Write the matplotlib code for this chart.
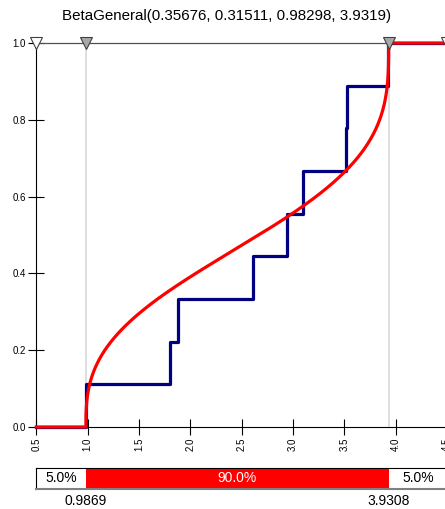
import math
import numpy as np
import matplotlib
matplotlib.use("Agg")
import matplotlib.pyplot as plt

plt.rcParams['font.family'] = ['Liberation Sans', 'DejaVu Sans']

# fitted distribution parameters
alpha1, alpha2 = 0.35676, 0.31511
lo, hi = 0.98298, 3.9319

# sample values (empirical CDF)
samples = [0.984, 1.80, 1.883, 2.61, 2.94, 3.10, 3.52, 3.53, 3.93]

# 5% / 95% delimiters
p_left, p_right = 0.9869, 3.9308
band_labels = ["5.0%", "90.0%", "5.0%"]

xticks = [0.5, 1.0, 1.5, 2.0, 2.5, 3.0, 3.5, 4.0, 4.5]
yticks = [0.0, 0.2, 0.4, 0.6, 0.8, 1.0]


def betacf(a, b, x):
    # continued fraction for the incomplete beta function
    qab, qap, qam = a + b, a + 1.0, a - 1.0
    c, d = 1.0, 1.0 - qab * x / qap
    if abs(d) < 1e-30:
        d = 1e-30
    d = 1.0 / d
    h = d
    for m in range(1, 300):
        m2 = 2 * m
        aa = m * (b - m) * x / ((qam + m2) * (a + m2))
        d = 1.0 + aa * d
        d = 1e-30 if abs(d) < 1e-30 else d
        c = 1.0 + aa / c
        c = 1e-30 if abs(c) < 1e-30 else c
        d = 1.0 / d
        h *= d * c
        aa = -(a + m) * (qab + m) * x / ((a + m2) * (qap + m2))
        d = 1.0 + aa * d
        d = 1e-30 if abs(d) < 1e-30 else d
        c = 1.0 + aa / c
        c = 1e-30 if abs(c) < 1e-30 else c
        d = 1.0 / d
        de = d * c
        h *= de
        if abs(de - 1.0) < 1e-12:
            break
    return h


def betainc(a, b, x):
    if x <= 0:
        return 0.0
    if x >= 1:
        return 1.0
    lbt = (math.lgamma(a + b) - math.lgamma(a) - math.lgamma(b)
           + a * math.log(x) + b * math.log(1 - x))
    bt = math.exp(lbt)
    if x < (a + 1) / (a + b + 2):
        return bt * betacf(a, b, x) / a
    return 1.0 - bt * betacf(b, a, 1 - x) / b


u = np.concatenate([np.linspace(0, 1, 600) ** 3 * 0.5,
                    1 - (np.linspace(0, 1, 600) ** 3 * 0.5)[::-1]])
u = np.unique(u)
xs = lo + u * (hi - lo)
cdf = np.array([betainc(alpha1, alpha2, t) for t in u])
xs = np.concatenate([[0.5], xs, [4.5]])
cdf = np.concatenate([[0.0], cdf, [1.0]])

# empirical step function
n = len(samples)
ex = np.concatenate([[0.5], samples, [4.5]])
ey = np.concatenate([[0.0], np.arange(1, n + 1) / n, [1.0]])

fig = plt.figure(figsize=(4.45, 5.09), dpi=100)
ax = fig.add_axes([0.0816, 0.1611, 0.9229, 0.7544])

ax.axvline(p_left, color='#d6d6d6', lw=1.1, zorder=1)
ax.axvline(p_right, color='#d6d6d6', lw=1.1, zorder=1)
ax.step(ex, ey, where='post', color='#000080', lw=2.3, zorder=3,
        clip_on=False)
ax.plot(xs, cdf, color='red', lw=2.3, zorder=4, clip_on=False)

ax.set_xlim(0.5, 4.5)
ax.set_ylim(0, 1)
ax.set_xticks(xticks)
ax.set_xticklabels([f"{v:.1f}" for v in xticks], rotation=90, fontsize=7)
ax.set_yticks(yticks)
ax.set_yticklabels([f"{v:.1f}" for v in yticks], fontsize=7)
ax.tick_params(direction='inout', length=11, width=0.8, pad=2)
ax.spines['right'].set_visible(False)
ax.spines['top'].set_color('#505050')
ax.spines['top'].set_linewidth(0.9)
ax.spines['top'].set_zorder(2)

# slider markers along the top edge
ax.plot([0.5, 4.5], [1.0, 1.0], 'v', ms=8, mfc='white', mec='#404040',
        mew=0.8, clip_on=False, zorder=6)
ax.plot([p_left, p_right], [1.0, 1.0], 'v', ms=8, mfc='#a8a8a8',
        mec='#404040', mew=0.8, clip_on=False, zorder=6)

fig.text(0.51, 0.968, "BetaGeneral(0.35676, 0.31511, 0.98298, 3.9319)",
         ha='center', va='center', fontsize=10.9)

# probability band under the plot
bx = fig.add_axes([0.0816, 0.0393, 0.9229, 0.0413])
bx.set_xlim(0.5, 4.5)
bx.set_ylim(0, 1)
bx.axvspan(p_left, p_right, color='red', lw=0)
bx.text((0.5 + p_left) / 2, 0.5, band_labels[0], ha='center', va='center',
        fontsize=10)
bx.text((p_left + p_right) / 2, 0.5, band_labels[1], ha='center',
        va='center', fontsize=10, color='white')
bx.text((p_right + 4.5) / 2, 0.5, band_labels[2], ha='center', va='center',
        fontsize=10)
bx.set_xticks([])
bx.set_yticks([])
for s in ['left', 'top']:
    bx.spines[s].set_color('black')
bx.spines['bottom'].set_color('#808080')
bx.spines['bottom'].set_linewidth(1.5)
bx.spines['right'].set_visible(False)
bx.text(p_left - 0.01, -0.22, f"{p_left:.4f}", ha='center', va='top',
        fontsize=10)
bx.text(p_right, -0.22, f"{p_right:.4f}", ha='center', va='top', fontsize=10)

fig.savefig("out.png", dpi=100)
